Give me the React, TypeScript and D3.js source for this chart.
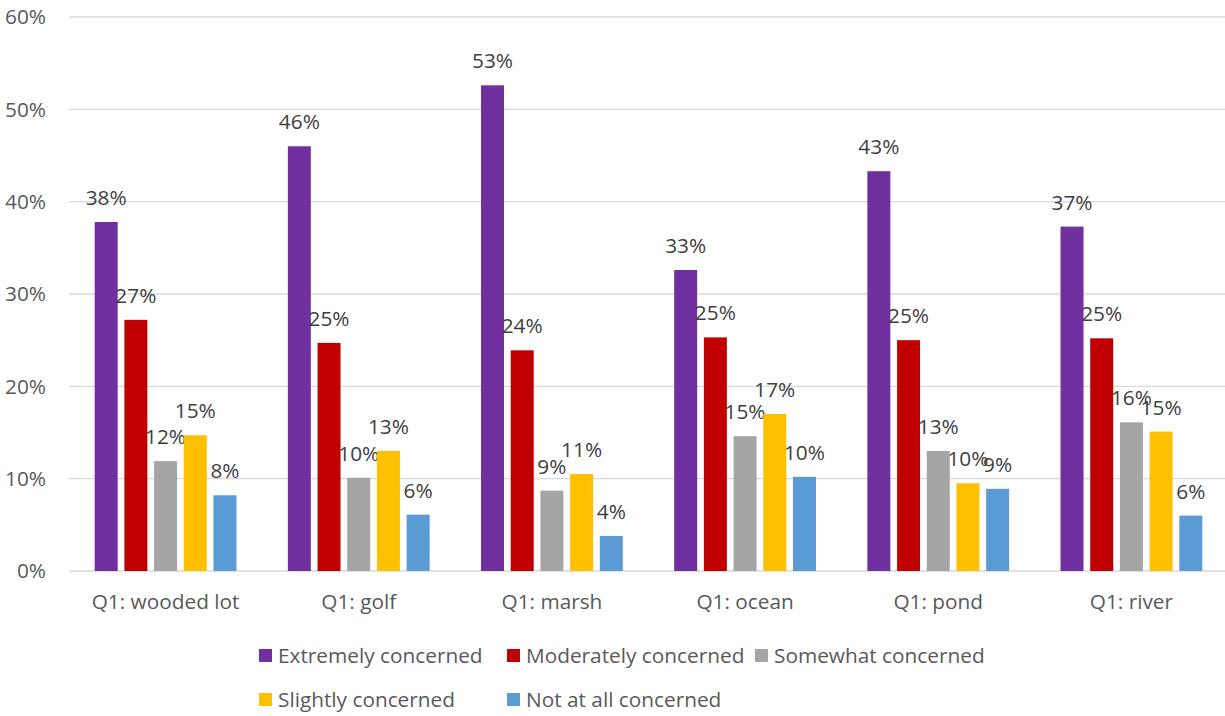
import React from "react";
import * as d3 from "d3";

const categories = ["Q1: wooded lot", "Q1: golf", "Q1: marsh", "Q1: ocean", "Q1: pond", "Q1: river"];
const seriesNames = [
  "Extremely concerned",
  "Moderately concerned",
  "Somewhat concerned",
  "Slightly concerned",
  "Not at all concerned",
];
const seriesColors = ["#7030A0", "#C00000", "#A5A5A5", "#FFC000", "#5B9BD5"];

// Share of respondents (%) per location, one array per concern level
const extremely = [37.8, 46.0, 52.6, 32.6, 43.3, 37.3];
const moderately = [27.2, 24.7, 23.9, 25.3, 25.0, 25.2];
const somewhat = [11.9, 10.1, 8.7, 14.6, 13.0, 16.1];
const slightly = [14.7, 13.0, 10.5, 17.0, 9.5, 15.1];
const notAtAll = [8.2, 6.1, 3.8, 10.2, 8.9, 6.0];
const seriesValues = [extremely, moderately, somewhat, slightly, notAtAll];

const yTicks = [0, 10, 20, 30, 40, 50, 60];

const W = 1225;
const H = 716;
const FONT = "'Open Sans', 'Noto Sans', sans-serif";
const TEXT = "#404040";
const FS = 20.8;

export default function App() {
  const left = 69;
  const right = 1228;
  const top = 17;
  const bottom = 571;

  const y = d3.scaleLinear().domain([0, 60]).range([bottom, top]);
  const x0 = d3.scaleBand<string>().domain(categories).range([left, right]).padding(0);
  const groupW = 141.8;
  const x1 = d3
    .scaleBand<string>()
    .domain(seriesNames)
    .range([0, groupW])
    .paddingInner(0.226)
    .paddingOuter(0);
  const offset = (x0.bandwidth() - groupW) / 2;

  const legendCols = [259, 507, 755];
  const legendRows = [656, 700];

  return (
    <svg
      width={W}
      height={H}
      style={{ position: "absolute", left: 0, top: 0, background: "#fff" }}
      fontFamily={FONT}
    >
      {/* gridlines */}
      {yTicks.map((t) => (
        <line
          key={"g" + t}
          x1={left}
          x2={W}
          y1={y(t)}
          y2={y(t)}
          stroke="#D9D9D9"
          strokeWidth={1.3}
        />
      ))}
      {/* y tick labels */}
      {yTicks.map((t) => (
        <text
          key={"t" + t}
          x={46}
          y={y(t)}
          dy="0.35em"
          textAnchor="end"
          fontSize={FS}
          fill="#595959"
        >
          {t}%
        </text>
      ))}
      {/* bars */}
      {categories.map((c, ci) => (
        <g key={c} transform={`translate(${(x0(c) ?? 0) + offset},0)`}>
          {seriesNames.map((s, si) => {
            const v = seriesValues[si][ci];
            const bx = x1(s) ?? 0;
            return (
              <g key={s}>
                <rect
                  x={bx}
                  y={y(v)}
                  width={x1.bandwidth()}
                  height={y(0) - y(v)}
                  fill={seriesColors[si]}
                />
                <text
                  x={bx + x1.bandwidth() / 2}
                  y={y(v) - 17}
                  textAnchor="middle"
                  fontSize={FS}
                  fill={TEXT}
                >
                  {Math.round(v)}%
                </text>
              </g>
            );
          })}
        </g>
      ))}
      {/* category labels */}
      {categories.map((c) => (
        <text
          key={"c" + c}
          x={(x0(c) ?? 0) + x0.bandwidth() / 2}
          y={609}
          textAnchor="middle"
          fontSize={FS}
          fill="#595959"
        >
          {c}
        </text>
      ))}
      {/* legend */}
      {seriesNames.map((s, i) => {
        const lx = legendCols[i % 3];
        const ly = legendRows[Math.floor(i / 3)];
        return (
          <g key={"l" + s}>
            <rect x={lx} y={ly - 7} width={13} height={13} fill={seriesColors[i]} />
            <text x={lx + 19} y={ly} dy="0.35em" fontSize={FS} fill="#595959">
              {s}
            </text>
          </g>
        );
      })}
    </svg>
  );
}
